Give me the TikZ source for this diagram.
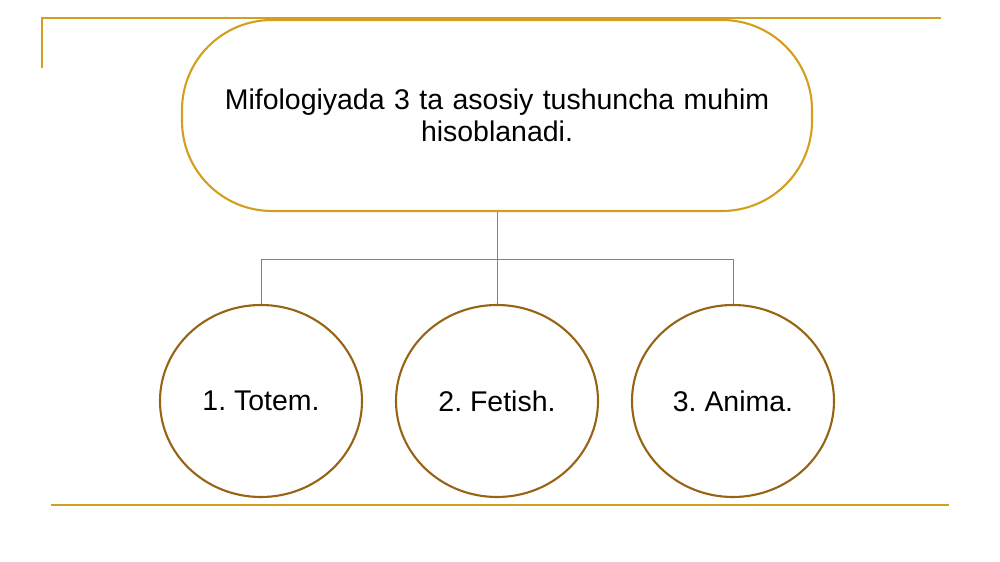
\documentclass[tikz,border=0pt]{standalone}
\usepackage{fontspec}
\setmainfont{Liberation Sans}
\usetikzlibrary{shapes.geometric, positioning, calc}
\definecolor{goldcolor}{RGB}{210, 160, 30}
\definecolor{circlecolor}{RGB}{150, 100, 20}
\definecolor{linkcolor}{RGB}{130, 130, 130}

\begin{document}
\frenchspacing
\begin{tikzpicture}[
    topic/.style={
        rectangle,
        rounded corners=1.8cm,
        draw=goldcolor,
        line width=1.2pt,
        fill=white,
        minimum width=12.6cm,
        minimum height=3.82cm,
        text width=11.8cm,
        align=center,
        font=\fontsize{16.2}{18.2}\selectfont
    },
    concept/.style={
        ellipse,
        draw=circlecolor,
        line width=1.2pt,
        fill=white,
        minimum width=4.04cm,
        minimum height=3.84cm,
        inner sep=0pt,
        align=center,
        font=\fontsize{16.2}{18.2}\selectfont
    },
    frame/.style={
        draw=goldcolor,
        line width=1pt
    },
    link/.style={
        draw=linkcolor,
        line width=0.5pt
    }
]

% Fix the page size
\useasboundingbox (0,0) rectangle (20,-11.24);

% Frame lines
\coordinate (frame_corner) at (0.84,-0.36);
\coordinate (frame_right) at (18.82,-0.36);
\coordinate (frame_low) at (0.84,-1.36);
\draw[frame] (frame_low) -- (frame_corner) -- (frame_right);

\coordinate (base_left) at (1.02,-10.1);
\coordinate (base_right) at (18.98,-10.1);
\draw[frame] (base_left) -- (base_right);

% Main statement
\node[topic] (main) at (9.94,-2.31) {Mifologiyada 3 ta asosiy tushuncha muhim\\hisoblanadi.};

% Three concepts
\node[concept] (totem) at (5.22,-8.02) {1. Totem.};
\node[concept] (fetish) at (9.94,-8.02) {2. Fetish.};
\node[concept] (anima) at (14.66,-8.02) {3. Anima.};

% Tree connectors
\coordinate (junction) at ($(main.south) + (0,-0.94)$);
\draw[link] (main.south) -- (junction);
\draw[link] (junction) -| (totem.north);
\draw[link] (junction) -| (anima.north);
\draw[link] (junction) -- (fetish.north);

\end{tikzpicture}
\end{document}
